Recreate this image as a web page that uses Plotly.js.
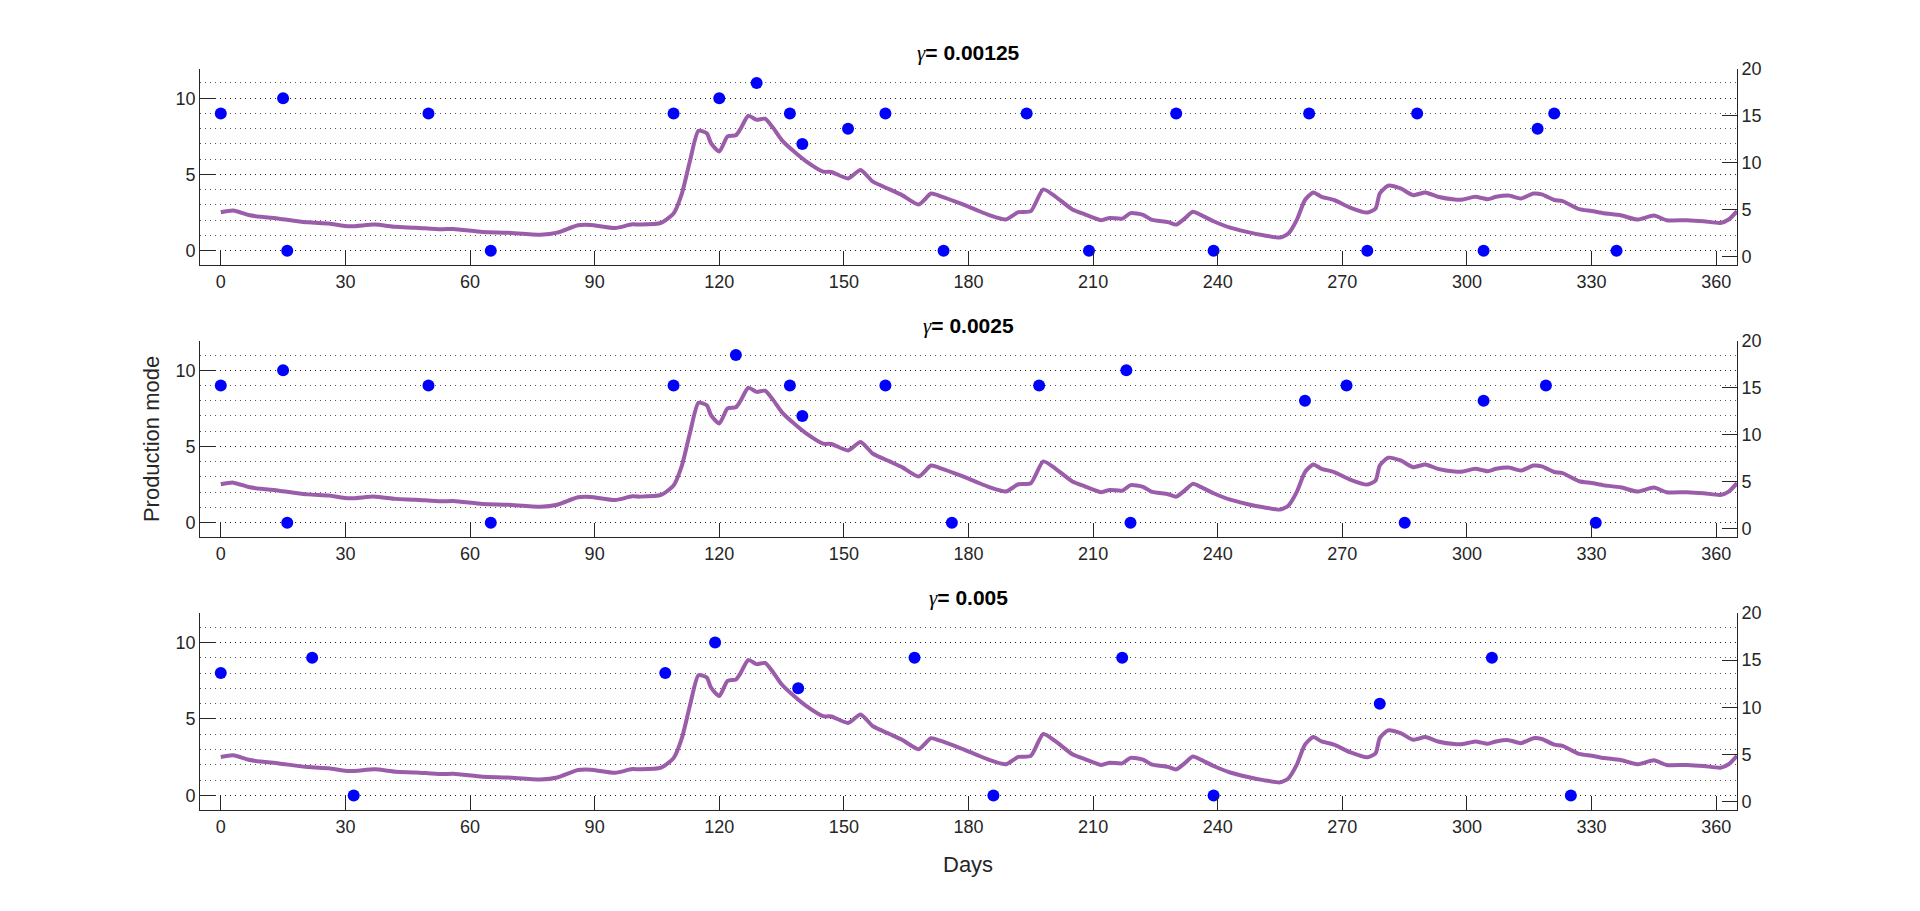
<!DOCTYPE html>
<html>
<head>
<meta charset="utf-8">
<script src="https://cdn.plot.ly/plotly-3.0.1.min.js"></script>
<style>
  html, body { margin: 0; padding: 0; background: #fff; }
  #chart { width: 1920px; height: 911px; }
</style>
</head>
<body>
<div id="chart"></div>
<script>
// right-axis series (same curve in every panel)
var lineDays = [0,3,7,14,21,26,31,37,42,47,53,56,63,69,77,81,86,89,95,99,101,106,109,111,113,115,117,118,120,122,124,125,127,129,131,133,135,138,141,145,147,151,154,157,161,164,168,171,173,178,182,185,189,192,195,198,201,205,208,212,214,217,219,222,224,228,230,232,234,236,239,243,247,251,255,257,259,261,263,265,268,272,276,278,279,281,284,287,290,293,297,299,302,305,307,310,313,316,318,321,323,327,330,333,337,341,345,348,353,357,361,363,365];
var lineValues = [4.74,4.91,4.41,4.05,3.66,3.53,3.24,3.42,3.18,3.09,2.92,2.96,2.64,2.56,2.35,2.56,3.35,3.39,3.06,3.45,3.42,3.6,4.61,6.73,10.31,13.41,13.15,12.1,11.2,12.81,12.94,13.53,15.02,14.58,14.7,13.7,12.45,11.2,10.13,9.06,9.03,8.34,9.24,7.99,7.17,6.56,5.56,6.73,6.49,5.68,4.96,4.43,3.96,4.74,4.85,7.17,6.38,5.03,4.52,3.89,4.13,4.05,4.64,4.46,3.96,3.68,3.42,4.05,4.78,4.43,3.78,3.09,2.64,2.28,2.04,2.46,3.89,6.04,6.85,6.38,6.04,5.21,4.7,5.14,6.73,7.56,7.27,6.56,6.85,6.38,6.1,6.1,6.38,6.13,6.38,6.52,6.2,6.73,6.64,6.04,5.92,5.06,4.87,4.62,4.41,3.96,4.38,3.89,3.89,3.78,3.6,3.96,4.85];

// production modes per gamma
var gammaLabels = ['0.00125', '0.0025', '0.005'];
var modeDays1 = [0,15,16,50,65,109,120,129,137,140,151,160,174,194,209,230,239,262,276,288,304,317,321,336];
var modes1    = [9,10,0,9,0,9,10,11,9,7,8,9,0,9,0,9,0,9,0,9,0,8,9,0];
var modeDays2 = [0,15,16,50,65,109,124,137,140,160,176,197,218,219,261,271,285,304,319,331];
var modes2    = [9,10,0,9,0,9,11,9,7,9,0,9,10,0,8,9,0,8,9,0];
var modeDays3 = [0,22,32,107,119,139,167,186,217,239,279,306,325];
var modes3    = [8,9,0,8,10,7,9,0,9,0,6,9,0];

var xTicks = [0,30,60,90,120,150,180,210,240,270,300,330,360];

var modeDays = [modeDays1, modeDays2, modeDays3];
var modes = [modes1, modes2, modes3];

var font = 'Liberation Sans, Arial, sans-serif';
var tickFont = {family: font, size: 18, color: '#262626'};
var gridDash = '1px,4px';
var gridColor = 'rgba(0,0,0,0.65)';

var domains = [[0.7091, 0.9243], [0.4105, 0.6257], [0.1109, 0.3271]];
var xDomain = [0.10417, 0.90469];

var data = [];
var layout = {
  width: 1920, height: 911,
  margin: {l: 0, r: 0, t: 0, b: 0},
  paper_bgcolor: '#fff', plot_bgcolor: 'rgba(0,0,0,0)',
  showlegend: false,
  annotations: []
};

for (var i = 0; i < 3; i++) {
  var xn = i === 0 ? '' : String(i + 1);
  var yl = String(2 * i + 1), yr = String(2 * i + 2);
  var ylName = yl === '1' ? '' : yl;

  data.push({
    x: modeDays[i], y: modes[i], type: 'scatter', mode: 'markers',
    xaxis: 'x' + xn, yaxis: 'y' + ylName,
    marker: {color: '#0000ff', size: 12}
  });
  data.push({
    x: lineDays, y: lineValues, type: 'scatter', mode: 'lines',
    xaxis: 'x' + xn, yaxis: 'y' + yr,
    line: {color: 'rgb(155,93,170)', width: 4, shape: 'spline', smoothing: 0.6}
  });

  layout['xaxis' + xn] = {
    domain: xDomain, anchor: 'y' + ylName, range: [-5, 365],
    tickvals: xTicks, ticks: 'inside', ticklen: 14, tickcolor: '#262626',
    showline: true, linecolor: '#262626', linewidth: 1,
    showgrid: false, zeroline: false, tickfont: tickFont
  };
  layout['yaxis' + ylName] = {
    domain: domains[i], anchor: 'x' + xn, range: [-0.94, 11.92],
    tickvals: [0, 5, 10], ticks: 'inside', ticklen: 15, tickcolor: '#262626',
    showline: true, linecolor: '#262626', linewidth: 1,
    showgrid: true, gridcolor: gridColor, griddash: gridDash, gridwidth: 1,
    minor: {dtick: 1, tick0: 0, showgrid: true, gridcolor: gridColor, griddash: gridDash, gridwidth: 1},
    zeroline: false, tickfont: tickFont
  };
  layout['yaxis' + yr] = {
    overlaying: 'y' + ylName, side: 'right', anchor: 'x' + xn, range: [-0.885, 20],
    tickvals: [0, 5, 10, 15, 20], ticks: 'inside', ticklen: 15, tickcolor: '#262626',
    showline: true, linecolor: '#262626', linewidth: 1,
    showgrid: false, zeroline: false, tickfont: tickFont
  };

  layout.annotations.push({
    xref: 'paper', yref: 'paper', x: 0.5044, y: domains[i][1] + 0.017,
    xanchor: 'center', yanchor: 'middle', showarrow: false,
    text: '<span style="font-family:\'Liberation Serif\',serif;font-weight:normal"><i>γ</i></span><b>= ' + gammaLabels[i] + '</b>',
    font: {family: font, size: 21, color: '#000'}
  });
}

layout.annotations.push({
  xref: 'paper', yref: 'paper', x: 151 / 1920, y: 0.518,
  xanchor: 'center', yanchor: 'middle', textangle: -90, showarrow: false,
  text: 'Production mode', font: {family: font, size: 22, color: '#262626'}
});
layout.annotations.push({
  xref: 'paper', yref: 'paper', x: 0.5044, y: 1 - 864 / 911,
  xanchor: 'center', yanchor: 'middle', showarrow: false,
  text: 'Days', font: {family: font, size: 22, color: '#262626'}
});

Plotly.newPlot('chart', data, layout, {displayModeBar: false, staticPlot: true});
</script>
</body>
</html>
